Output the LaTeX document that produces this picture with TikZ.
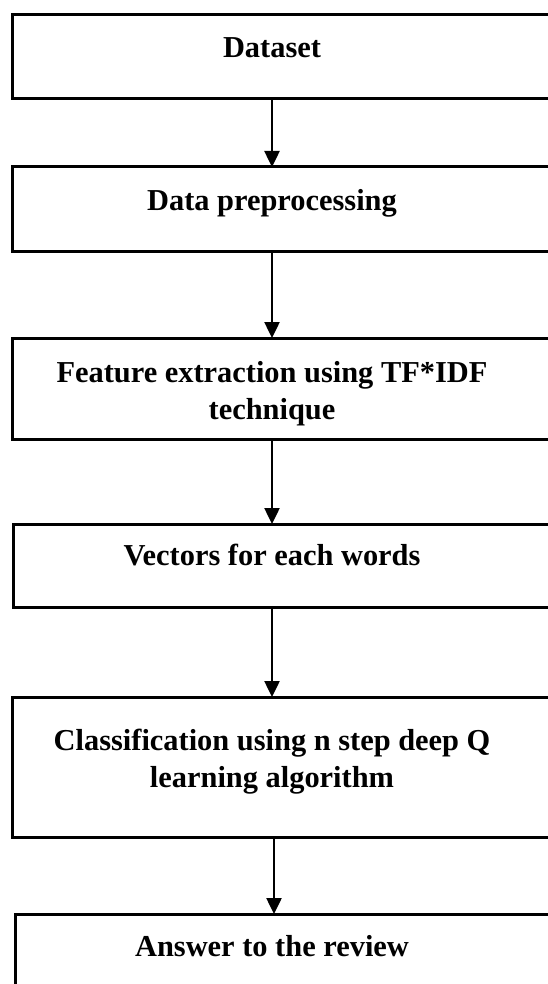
\documentclass[tikz,border=0pt]{standalone}
\usepackage{fontspec}
\setmainfont{Liberation Serif}
\usetikzlibrary{arrows.meta, positioning}

\tikzset{
  stage/.style={draw, rectangle, line width=3pt, minimum width=548pt,
    inner sep=0pt, outer sep=0pt, anchor=north west},
  caption/.style={anchor=base, align=center, inner sep=0pt,
    font=\fontsize{30.4}{37}\selectfont\bfseries},
  flow/.style={-{Triangle[length=16pt, width=15pt]}, line width=2.5pt}
}

\begin{document}
\begin{tikzpicture}[x=1pt, y=-1pt]
	\useasboundingbox (0,0) rectangle (548,984);

	% boxes
	\node[stage, minimum height=84pt]  (dataset) at (12,15)  {};
	\node[stage, minimum height=84pt]  (prep)    at (12,167) {};
	\node[stage, minimum height=101pt] (feature) at (12,338) {};
	\node[stage, minimum height=83pt]  (vectors) at (13,524) {};
	\node[stage, minimum height=140pt] (classif) at (12,697) {};
	\node[stage, minimum height=100pt] (answer)  at (15,914) {};

	% texts (base = last line)
	\node[caption] (tdataset) at (272,58)  {Dataset};
	\node[caption] (tprep)    at (272,211) {Data preprocessing};
	\node[caption] (tfeature) at (272,419) {Feature extraction using TF*IDF\\technique};
	\node[caption] (tvectors) at (272,565) {Vectors for each words};
	\node[caption] (tclassif) at (272,787) {Classification using n step deep Q\\learning algorithm};
	\node[caption] (tanswer)  at (272,956) {Answer to the review};

	% arrows
	\draw[flow] (tdataset |- dataset.south) -- (tdataset |- prep.north);
	\draw[flow] (tprep |- prep.south) -- (tprep |- feature.north);
	\draw[flow] (tfeature |- feature.south) -- (tfeature |- vectors.north);
	\draw[flow] (tvectors |- vectors.south) -- (tvectors |- classif.north);
	\draw[flow] ([xshift=2pt]tclassif |- classif.south) -- ([xshift=2pt]tclassif |- answer.north);
\end{tikzpicture}
\end{document}
